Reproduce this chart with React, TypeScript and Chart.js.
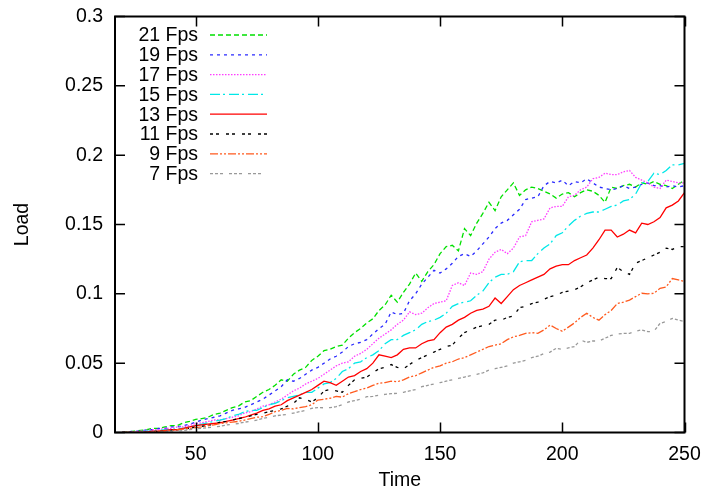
import React, { useEffect, useRef } from 'react';
import { Chart, registerables } from 'chart.js';

Chart.register(...registerables);

const TIME = [
  20, 22.5, 25, 27.5, 30, 32.5, 35, 37.5, 40, 42.5,
  45, 47.5, 50, 52.5, 55, 57.5, 60, 62.5, 65, 67.5,
  70, 72.5, 75, 77.5, 80, 82.5, 85, 87.5, 90, 92.5,
  95, 97.5, 100, 102.5, 105, 107.5, 110, 112.5, 115, 117.5,
  120, 122.5, 125, 127.5, 130, 132.5, 135, 137.5, 140, 142.5,
  145, 147.5, 150, 152.5, 155, 157.5, 160, 162.5, 165, 167.5,
  170, 172.5, 175, 177.5, 180, 182.5, 185, 187.5, 190, 192.5,
  195, 197.5, 200, 202.5, 205, 207.5, 210, 212.5, 215, 217.5,
  220, 222.5, 225, 227.5, 230, 232.5, 235, 237.5, 240, 242.5,
  245, 247.5, 250,
];

const FPS21 = [
  0, 0.0005, 0.001, 0.0015, 0.002, 0.003, 0.003, 0.004, 0.005, 0.005,
  0.007, 0.008, 0.0095, 0.010, 0.011, 0.013, 0.014, 0.016, 0.018, 0.019,
  0.022, 0.023, 0.026, 0.029, 0.031, 0.034, 0.038, 0.037, 0.042, 0.045,
  0.047, 0.052, 0.055, 0.059, 0.060, 0.062, 0.063, 0.068, 0.072, 0.075,
  0.079, 0.082, 0.088, 0.092, 0.099, 0.094, 0.101, 0.107, 0.115, 0.109,
  0.116, 0.121, 0.129, 0.134, 0.135, 0.131, 0.147, 0.142, 0.151, 0.158,
  0.166, 0.160, 0.170, 0.175, 0.180, 0.171, 0.175, 0.177, 0.176, 0.174,
  0.172, 0.169, 0.172, 0.173, 0.170, 0.173, 0.175, 0.174, 0.171, 0.166,
  0.177, 0.176, 0.178, 0.179, 0.177, 0.180, 0.179, 0.181, 0.179, 0.178,
  0.176, 0.179, 0.182,
];

const FPS19 = [
  0, 0.0005, 0.001, 0.001, 0.002, 0.002, 0.003, 0.003, 0.004, 0.004,
  0.005, 0.006, 0.0075, 0.009, 0.010, 0.011, 0.012, 0.014, 0.016, 0.017,
  0.018, 0.020, 0.022, 0.024, 0.027, 0.030, 0.033, 0.038, 0.037, 0.039,
  0.042, 0.045, 0.047, 0.050, 0.053, 0.055, 0.058, 0.062, 0.064, 0.065,
  0.067, 0.071, 0.075, 0.078, 0.087, 0.085, 0.086, 0.095, 0.100, 0.107,
  0.112, 0.117, 0.115, 0.118, 0.122, 0.127, 0.129, 0.127, 0.131, 0.136,
  0.141, 0.147, 0.151, 0.153, 0.157, 0.161, 0.168, 0.169, 0.170, 0.178,
  0.181, 0.180, 0.182, 0.178, 0.181, 0.180, 0.183, 0.180, 0.177, 0.176,
  0.175, 0.176, 0.178, 0.176, 0.177, 0.179, 0.180, 0.178, 0.178, 0.177,
  0.178, 0.177, 0.178,
];

const FPS17 = [
  0, 0, 0.0005, 0.001, 0.0015, 0.002, 0.002, 0.003, 0.003, 0.004,
  0.004, 0.005, 0.0065, 0.007, 0.008, 0.009, 0.009, 0.010, 0.011, 0.012,
  0.014, 0.015, 0.017, 0.019, 0.020, 0.022, 0.024, 0.027, 0.030, 0.032,
  0.035, 0.037, 0.039, 0.042, 0.045, 0.048, 0.050, 0.051, 0.055, 0.057,
  0.060, 0.064, 0.068, 0.071, 0.074, 0.078, 0.081, 0.087, 0.085, 0.086,
  0.090, 0.093, 0.094, 0.095, 0.106, 0.108, 0.106, 0.115, 0.114, 0.116,
  0.125, 0.130, 0.132, 0.129, 0.133, 0.141, 0.142, 0.152, 0.153, 0.154,
  0.162, 0.163, 0.163, 0.170, 0.171, 0.175, 0.177, 0.183, 0.184, 0.187,
  0.186, 0.186, 0.188, 0.189, 0.184, 0.182, 0.180, 0.177, 0.176, 0.182,
  0.181, 0.180, 0.180,
];

const FPS15 = [
  0, 0, 0, 0.0005, 0.001, 0.001, 0.0015, 0.002, 0.002, 0.003,
  0.003, 0.004, 0.005, 0.006, 0.007, 0.008, 0.009, 0.010, 0.012, 0.013,
  0.015, 0.016, 0.016, 0.018, 0.020, 0.021, 0.023, 0.025, 0.026, 0.027,
  0.029, 0.029, 0.032, 0.035, 0.036, 0.039, 0.044, 0.046, 0.050, 0.051,
  0.054, 0.056, 0.059, 0.064, 0.067, 0.067, 0.070, 0.072, 0.074, 0.078,
  0.080, 0.081, 0.083, 0.086, 0.091, 0.093, 0.094, 0.095, 0.099, 0.102,
  0.108, 0.112, 0.114, 0.114, 0.116, 0.123, 0.124, 0.124, 0.129, 0.133,
  0.136, 0.142, 0.144, 0.149, 0.153, 0.156, 0.158, 0.159, 0.159, 0.161,
  0.163, 0.164, 0.167, 0.168, 0.172, 0.180, 0.181, 0.187, 0.186, 0.189,
  0.193, 0.193, 0.194,
];

const FPS13 = [
  0, 0, 0, 0, 0.0005, 0.001, 0.001, 0.0015, 0.002, 0.002,
  0.003, 0.004, 0.005, 0.0055, 0.006, 0.0065, 0.007, 0.008, 0.009, 0.010,
  0.011, 0.0125, 0.014, 0.016, 0.017, 0.019, 0.020, 0.023, 0.025, 0.027,
  0.029, 0.031, 0.034, 0.037, 0.036, 0.034, 0.037, 0.040, 0.041, 0.044,
  0.046, 0.050, 0.056, 0.055, 0.054, 0.056, 0.060, 0.061, 0.061, 0.064,
  0.066, 0.067, 0.072, 0.076, 0.078, 0.081, 0.083, 0.086, 0.088, 0.089,
  0.091, 0.097, 0.093, 0.098, 0.103, 0.106, 0.108, 0.110, 0.112, 0.114,
  0.118, 0.120, 0.121, 0.121, 0.124, 0.126, 0.128, 0.133, 0.139, 0.146,
  0.146, 0.141, 0.143, 0.146, 0.144, 0.151, 0.150, 0.152, 0.155, 0.162,
  0.164, 0.167, 0.173,
];

const FPS11 = [
  0, 0, 0, 0, 0, 0.0005, 0.001, 0.001, 0.0015, 0.002,
  0.0025, 0.003, 0.004, 0.0045, 0.005, 0.006, 0.0075, 0.008, 0.009, 0.010,
  0.011, 0.012, 0.013, 0.0138, 0.015, 0.016, 0.017, 0.019, 0.021, 0.025,
  0.024, 0.022, 0.025, 0.030, 0.031, 0.030, 0.029, 0.034, 0.038, 0.039,
  0.040, 0.043, 0.046, 0.047, 0.049, 0.047, 0.046, 0.049, 0.052, 0.054,
  0.056, 0.058, 0.060, 0.062, 0.063, 0.068, 0.072, 0.074, 0.076, 0.077,
  0.078, 0.081, 0.081, 0.083, 0.084, 0.090, 0.091, 0.093, 0.094, 0.096,
  0.098, 0.099, 0.101, 0.102, 0.103, 0.105, 0.108, 0.110, 0.112, 0.111,
  0.111, 0.119, 0.116, 0.114, 0.122, 0.124, 0.126, 0.128, 0.130, 0.133,
  0.132, 0.134, 0.134,
];

const FPS9 = [
  0, 0, 0, 0, 0, 0.0005, 0.001, 0.001, 0.0015, 0.002,
  0.0025, 0.003, 0.0035, 0.004, 0.005, 0.0055, 0.0065, 0.007, 0.0075, 0.008,
  0.009, 0.010, 0.011, 0.0114, 0.013, 0.015, 0.016, 0.0174, 0.017, 0.018,
  0.0186, 0.020, 0.0234, 0.024, 0.0247, 0.026, 0.0255, 0.028, 0.0294, 0.031,
  0.032, 0.034, 0.0355, 0.036, 0.037, 0.0366, 0.038, 0.040, 0.041, 0.043,
  0.045, 0.047, 0.048, 0.050, 0.051, 0.053, 0.054, 0.056, 0.058, 0.060,
  0.062, 0.063, 0.064, 0.067, 0.069, 0.070, 0.0715, 0.072, 0.0715, 0.074,
  0.0775, 0.075, 0.073, 0.076, 0.079, 0.083, 0.086, 0.083, 0.081, 0.085,
  0.088, 0.093, 0.094, 0.0955, 0.098, 0.1004, 0.100, 0.1004, 0.104, 0.105,
  0.111, 0.110, 0.109,
];

const FPS7 = [
  0, 0, 0, 0, 0, 0, 0.0005, 0.0005, 0.001, 0.001,
  0.0015, 0.002, 0.0028, 0.003, 0.0035, 0.004, 0.0045, 0.0054, 0.006, 0.0065,
  0.0075, 0.008, 0.009, 0.0102, 0.011, 0.012, 0.0126, 0.013, 0.014, 0.015,
  0.016, 0.0174, 0.018, 0.0178, 0.018, 0.0186, 0.020, 0.022, 0.023, 0.024,
  0.0258, 0.026, 0.027, 0.0275, 0.028, 0.0283, 0.029, 0.030, 0.031, 0.033,
  0.034, 0.035, 0.036, 0.037, 0.038, 0.039, 0.040, 0.041, 0.042, 0.043,
  0.045, 0.046, 0.047, 0.048, 0.050, 0.051, 0.052, 0.054, 0.055, 0.057,
  0.058, 0.0607, 0.060, 0.061, 0.062, 0.0667, 0.065, 0.066, 0.066, 0.068,
  0.070, 0.071, 0.0715, 0.0715, 0.073, 0.074, 0.0727, 0.073, 0.0787, 0.080,
  0.0823, 0.081, 0.080,
];

const SERIES_LABELS = ['21 Fps', '19 Fps', '17 Fps', '15 Fps', '13 Fps', '11 Fps', '9 Fps', '7 Fps'];
const SERIES_VALUES = [FPS21, FPS19, FPS17, FPS15, FPS13, FPS11, FPS9, FPS7];
const SERIES_COLORS = ['#00e000', '#2a2aff', '#ff3cff', '#00e8e8', '#ff0000', '#000000', '#ff5a1e', '#999999'];
const SERIES_DASHES: number[][] = [
  [5, 3],
  [3, 4],
  [1.5, 1.5],
  [10, 3, 2, 4],
  [],
  [3, 3, 3, 7],
  [8, 2, 2, 2, 2, 2],
  [3, 2, 3, 2, 3, 6],
];

const X_TICKS = [50, 100, 150, 200, 250];
const Y_TICKS = [0, 0.05, 0.1, 0.15, 0.2, 0.25, 0.3];
const X_MIN = 17;
const X_MAX = 250;

const FONT = "'Liberation Sans', Arial, Helvetica, sans-serif";
const FONT_SIZE = 19.5;

const framePlugin = {
  id: 'gpFrame',
  afterDatasetsDraw(chart: any) {
    const { ctx, chartArea: a, scales } = chart;
    const xs = scales.x;
    const ys = scales.y;
    ctx.save();
    ctx.strokeStyle = '#000';
    ctx.setLineDash([]);
    ctx.lineWidth = 1.5;
    const tl = 10;
    ctx.beginPath();
    X_TICKS.forEach((v) => {
      const px = Math.round(xs.getPixelForValue(v)) + 0.5;
      ctx.moveTo(px, a.bottom);
      ctx.lineTo(px, a.bottom - tl);
      ctx.moveTo(px, a.top);
      ctx.lineTo(px, a.top + tl);
    });
    Y_TICKS.forEach((v) => {
      const py = ys.getPixelForValue(v);
      ctx.moveTo(a.left, py);
      ctx.lineTo(a.left + tl, py);
      ctx.moveTo(a.right, py);
      ctx.lineTo(a.right - tl, py);
    });
    ctx.stroke();
    ctx.lineWidth = 2;
    ctx.strokeRect(a.left, a.top, a.right - a.left, a.bottom - a.top);

    // legend (gnuplot style, inside top-left)
    ctx.font = `${FONT_SIZE}px ${FONT}`;
    ctx.textAlign = 'right';
    ctx.textBaseline = 'middle';
    chart.data.datasets.forEach((ds: any, i: number) => {
      const y = a.top + 18.5 + i * 19.8;
      ctx.fillStyle = '#000';
      ctx.fillText(ds.label, a.left + 83, y + 1);
      ctx.strokeStyle = ds.borderColor;
      ctx.lineWidth = ds.borderWidth;
      ctx.setLineDash(ds.borderDash || []);
      ctx.beginPath();
      ctx.moveTo(a.left + 95, y);
      ctx.lineTo(a.left + 152, y);
      ctx.stroke();
    });
    ctx.restore();
  },
};

export default function App() {
  const ref = useRef<HTMLCanvasElement | null>(null);

  useEffect(() => {
    if (!ref.current) return;
    Chart.defaults.font.family = FONT;
    Chart.defaults.color = '#000';
    const chart = new Chart(ref.current, {
      type: 'line',
      data: {
        datasets: SERIES_LABELS.map((label, i) => ({
          label,
          data: TIME.map((t, j) => ({ x: t, y: SERIES_VALUES[i][j] })),
          borderColor: SERIES_COLORS[i],
          backgroundColor: SERIES_COLORS[i],
          borderWidth: 1.3,
          borderDash: SERIES_DASHES[i],
          pointRadius: 0,
          tension: 0,
          fill: false,
          order: SERIES_LABELS.length - i,
        })),
      },
      options: {
        animation: false,
        responsive: false,
        layout: { padding: { left: 0, right: 18.5, top: 16.5, bottom: 0 } },
        plugins: { legend: { display: false }, tooltip: { enabled: false } },
        scales: {
          x: {
            type: 'linear',
            min: X_MIN,
            max: X_MAX,
            grid: { display: false, drawTicks: true, tickLength: 10 },
            border: { display: false },
            afterBuildTicks: (s: any) => {
              s.ticks = X_TICKS.map((v) => ({ value: v }));
            },
            afterFit: (s: any) => {
              s.height = 61.5;
            },
            ticks: {
              padding: 0,
              maxRotation: 0,
              font: { size: FONT_SIZE },
              callback: (v: any) => String(v),
            },
            title: {
              display: true,
              text: 'Time',
              font: { size: FONT_SIZE },
              padding: { top: 0, bottom: 1.5 },
            },
          },
          y: {
            type: 'linear',
            min: 0,
            max: 0.3,
            grid: { display: false, drawTicks: true, tickLength: 12 },
            border: { display: false },
            afterBuildTicks: (s: any) => {
              s.ticks = Y_TICKS.map((v) => ({ value: v }));
            },
            afterFit: (s: any) => {
              s.width = 115;
            },
            ticks: {
              padding: 0,
              font: { size: FONT_SIZE },
              callback: (v: any) => String(+Number(v).toFixed(2)),
            },
            title: {
              display: true,
              text: 'Load',
              font: { size: FONT_SIZE },
              padding: { top: 11, bottom: 0 },
            },
          },
        },
      },
      plugins: [framePlugin],
    });
    return () => chart.destroy();
  }, []);

  return (
    <div style={{ position: 'absolute', left: 0, top: 0, width: 703, height: 494, background: '#fff' }}>
      <canvas ref={ref} width={703} height={494} style={{ display: 'block', width: 703, height: 494 }} />
    </div>
  );
}
